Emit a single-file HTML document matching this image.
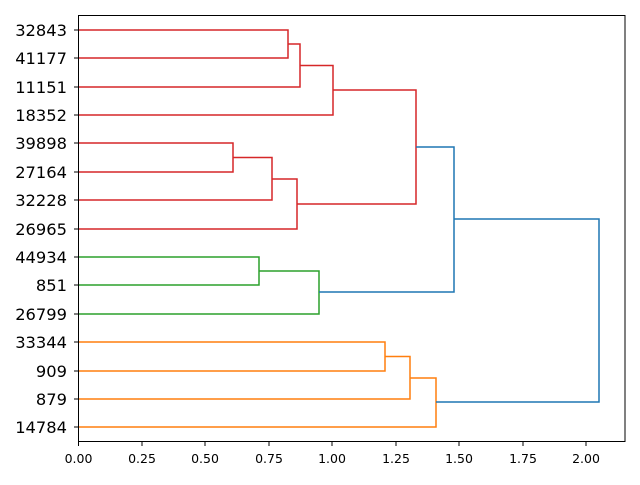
<!DOCTYPE html><html><head><style>body{margin:0;background:#fff}</style></head><body>
<svg width="640" height="480" xmlns="http://www.w3.org/2000/svg" font-family="'DejaVu Sans', sans-serif">
<g fill="none" stroke-width="1.5">
<g stroke="#d62728">
<path d="M78,30H288V58H78"/><path d="M288,44H300V87H78"/><path d="M300,65.5H333V115H78"/>
<path d="M78,143H233V172H78"/><path d="M233,157.5H272V200H78"/><path d="M272,179H297V229H78"/>
<path d="M333,90H416V204H297"/>
</g>
<g stroke="#2ca02c"><path d="M78,257H259V285H78"/><path d="M259,271H319V314H78"/></g>
<g stroke="#ff7f0e"><path d="M78,342H385V371H78"/><path d="M385,356.5H410V399H78"/><path d="M410,378H436V427H78"/></g>
<g stroke="#1f77b4"><path d="M416,147H454V292H319"/><path d="M454,219H599V402H436"/></g>
</g>
<rect x="78.5" y="15.5" width="546.5" height="426" fill="none" stroke="#000" stroke-width="1"/>
<g stroke="#000"><path d="M78.5,441V446M142,441V446M205,441V446M269,441V446M332,441V446M396,441V446M459,441V446M523,441V446M586,441V446"/>
<path d="M74,30H78M74,58H78M74,87H78M74,115H78M74,143H78M74,172H78M74,200H78M74,229H78M74,257H78M74,285H78M74,314H78M74,342H78M74,371H78M74,399H78M74,427H78"/></g>
<g font-size="12.5" text-anchor="middle">
<text x="78.5" y="463">0.00</text><text x="142" y="463">0.25</text><text x="205" y="463">0.50</text><text x="269" y="463">0.75</text><text x="332" y="463">1.00</text><text x="396" y="463">1.25</text><text x="459" y="463">1.50</text><text x="523" y="463">1.75</text><text x="586" y="463">2.00</text>
</g>
<g font-size="16.3" text-anchor="end">
<text x="67" y="36">32843</text><text x="67" y="64">41177</text><text x="67" y="93">11151</text><text x="67" y="121">18352</text><text x="67" y="149">39898</text><text x="67" y="178">27164</text><text x="67" y="206">32228</text><text x="67" y="235">26965</text><text x="67" y="263">44934</text><text x="67" y="291">851</text><text x="67" y="320">26799</text><text x="67" y="348">33344</text><text x="67" y="377">909</text><text x="67" y="405">879</text><text x="67" y="433">14784</text>
</g>
</svg></body></html>
